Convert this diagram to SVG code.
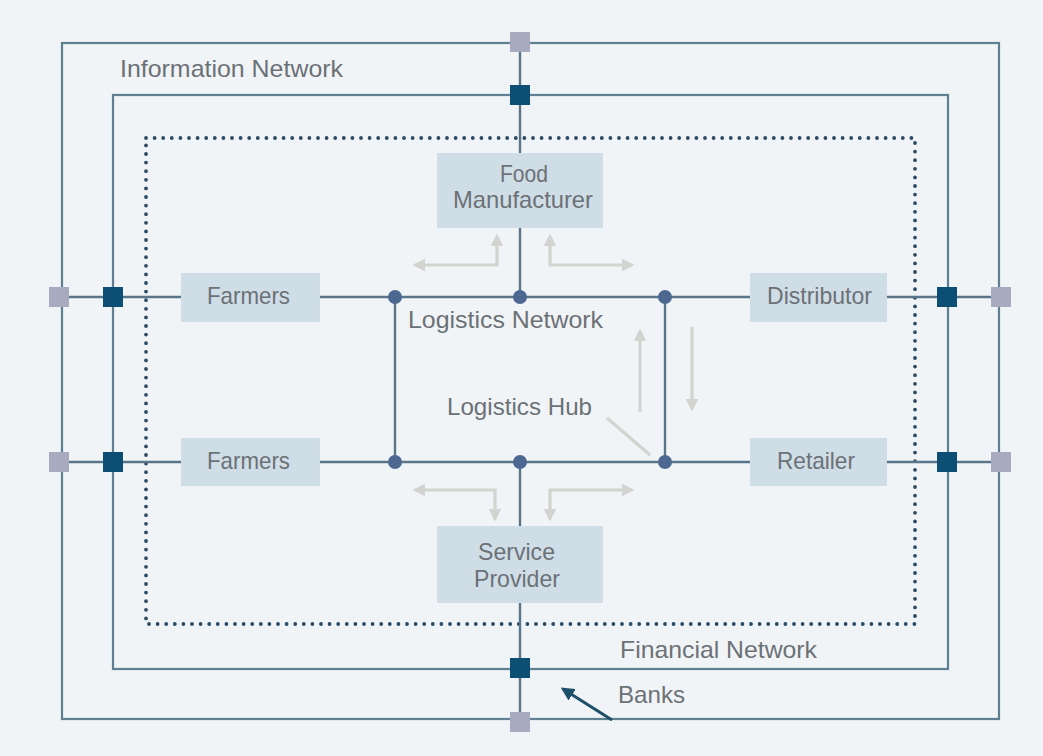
<svg xmlns="http://www.w3.org/2000/svg" width="1043" height="756" viewBox="0 0 1043 756">
<defs>
<style>
.net{fill:none;stroke:#5f7f92;stroke-width:2.2}
.link{stroke:#5a7589;stroke-width:2.4;fill:none}
.dotted{fill:none;stroke:#2c4a62;stroke-width:3.8;stroke-linecap:round;stroke-dasharray:0 8.6}
.box{fill:#cfdde7}
.lbl{font-family:"Liberation Sans",Arial,sans-serif;fill:#6c7176;font-size:24px}
.ctr{text-anchor:middle}
.flow{fill:none;stroke:#d3d3d0;stroke-width:3.2}
.sqL{fill:#a8abc0}
.sqD{fill:#0d4e74}
.hub{fill:#4c6891}
</style>
<marker id="ah" viewBox="0 0 10 10" refX="8" refY="5" markerWidth="4" markerHeight="4" orient="auto-start-reverse" markerUnits="strokeWidth">
<path d="M0,0 L10,5 L0,10 z" fill="#d3d3d0"/>
</marker>
<marker id="ahd" viewBox="0 0 10 10" refX="8" refY="5" markerWidth="4.5" markerHeight="4.5" orient="auto" markerUnits="strokeWidth">
<path d="M0,0 L10,5 L0,10 z" fill="#1d4f68"/>
</marker>
</defs>
<rect x="0" y="0" width="1043" height="756" fill="#f0f4f7"/>

<g id="networks">
<rect id="information-network" class="net" x="62" y="43" width="937" height="676"/>
<rect id="financial-network" class="net" x="113" y="95" width="835" height="574"/>
<rect id="logistics-boundary" class="dotted" x="146" y="138" width="769" height="486"/>
</g>

<g id="connectors">
<line class="link" x1="59" y1="297" x2="1001" y2="297"/>
<line class="link" x1="59" y1="462" x2="1001" y2="462"/>
<line class="link" x1="520" y1="42" x2="520" y2="297"/>
<line class="link" x1="520" y1="462" x2="520" y2="722"/>
<line class="link" x1="395" y1="297" x2="395" y2="462"/>
<line class="link" x1="665" y1="297" x2="665" y2="462"/>
<path class="flow" d="M415,265 H497 V236" marker-start="url(#ah)" marker-end="url(#ah)"/>
<path class="flow" d="M632,265 H550 V236" marker-start="url(#ah)" marker-end="url(#ah)"/>
<path class="flow" d="M415,490 H495 V519" marker-start="url(#ah)" marker-end="url(#ah)"/>
<path class="flow" d="M632,490 H550 V519" marker-start="url(#ah)" marker-end="url(#ah)"/>
<line class="flow" x1="640" y1="412" x2="640" y2="331" marker-end="url(#ah)"/>
<line class="flow" x1="692" y1="327" x2="692" y2="409" marker-end="url(#ah)"/>
<line class="flow" x1="607" y1="418" x2="650" y2="455" stroke-width="2.4"/>
<line x1="612" y1="720" x2="563" y2="689" stroke="#1d4f68" stroke-width="3" marker-end="url(#ahd)"/>
</g>

<g id="terminals">
<rect class="sqL" x="510" y="32" width="20" height="20"/>
<rect class="sqL" x="49" y="287" width="20" height="20"/>
<rect class="sqL" x="991" y="287" width="20" height="20"/>
<rect class="sqL" x="49" y="452" width="20" height="20"/>
<rect class="sqL" x="991" y="452" width="20" height="20"/>
<rect class="sqL" x="510" y="712" width="20" height="20"/>
<rect class="sqD" x="510" y="85" width="20" height="20"/>
<rect class="sqD" x="103" y="287" width="20" height="20"/>
<rect class="sqD" x="937" y="287" width="20" height="20"/>
<rect class="sqD" x="103" y="452" width="20" height="20"/>
<rect class="sqD" x="937" y="452" width="20" height="20"/>
<rect class="sqD" x="510" y="658" width="20" height="20"/>
</g>

<g id="hubs">
<circle class="hub" cx="395" cy="297" r="7"/>
<circle class="hub" cx="520" cy="297" r="7"/>
<circle class="hub" cx="665" cy="297" r="7"/>
<circle class="hub" cx="395" cy="462" r="7"/>
<circle class="hub" cx="520" cy="462" r="7"/>
<circle class="hub" cx="665" cy="462" r="7"/>
</g>

<g id="farmers-top">
<rect class="box" x="181" y="273" width="139" height="49"/>
<text class="lbl" x="207" y="304" textLength="83" lengthAdjust="spacingAndGlyphs">Farmers</text>
</g>
<g id="farmers-bottom">
<rect class="box" x="181" y="438" width="139" height="48"/>
<text class="lbl" x="207" y="469" textLength="83" lengthAdjust="spacingAndGlyphs">Farmers</text>
</g>
<g id="distributor">
<rect class="box" x="750" y="273" width="137" height="49"/>
<text class="lbl" x="767" y="304" textLength="105" lengthAdjust="spacingAndGlyphs">Distributor</text>
</g>
<g id="retailer">
<rect class="box" x="750" y="438" width="137" height="48"/>
<text class="lbl" x="777" y="469" textLength="78" lengthAdjust="spacingAndGlyphs">Retailer</text>
</g>
<g id="food-manufacturer">
<rect class="box" x="437" y="153" width="166" height="75"/>
<text class="lbl" x="500" y="182" textLength="48" lengthAdjust="spacingAndGlyphs">Food</text>
<text class="lbl" x="453" y="208" textLength="140" lengthAdjust="spacingAndGlyphs">Manufacturer</text>
</g>
<g id="service-provider">
<rect class="box" x="437" y="526" width="166" height="77"/>
<text class="lbl" x="478" y="560" textLength="77" lengthAdjust="spacingAndGlyphs">Service</text>
<text class="lbl" x="474" y="587" textLength="86" lengthAdjust="spacingAndGlyphs">Provider</text>
</g>

<g id="labels">
<text class="lbl" x="120" y="77" textLength="223" lengthAdjust="spacingAndGlyphs">Information Network</text>
<text class="lbl" x="408" y="328" textLength="195" lengthAdjust="spacingAndGlyphs">Logistics Network</text>
<text class="lbl" x="447" y="415" textLength="145" lengthAdjust="spacingAndGlyphs">Logistics Hub</text>
<text class="lbl" x="620" y="658" textLength="197" lengthAdjust="spacingAndGlyphs">Financial Network</text>
<text class="lbl" x="618" y="703" textLength="67" lengthAdjust="spacingAndGlyphs">Banks</text>
</g>
</svg>
